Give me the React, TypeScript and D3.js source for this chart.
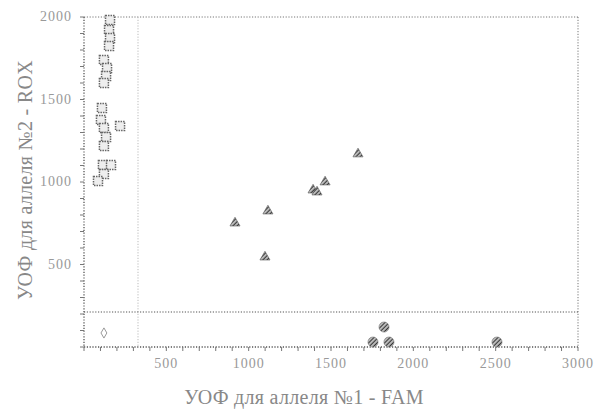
import React from 'react';
import * as d3 from 'd3';

// allele 2 homozygotes (open squares)
const squaresX = [158, 152, 158, 152, 121, 140, 134, 121, 109, 103, 121, 134, 121, 219, 115, 164, 121, 85];
const squaresY = [1982, 1921, 1873, 1824, 1739, 1691, 1642, 1600, 1448, 1376, 1327, 1273, 1218, 1339, 1103, 1103, 1048, 1006];

// heterozygotes (filled triangles)
const trianglesX = [917, 1117, 1099, 1391, 1415, 1464, 1664];
const trianglesY = [751, 824, 545, 951, 939, 1000, 1170];

// allele 1 homozygotes (filled circles)
const circlesX = [1755, 1822, 1852, 2508];
const circlesY = [30, 121, 30, 30];

// no template control
const ntcX = [121];
const ntcY = [85];

const xThreshold = 328;
const yThreshold = 212;

const xTickLabels = [500, 1000, 1500, 2000, 2500, 3000];
const yTickLabels = [500, 1000, 1500, 2000];
const minorStep = 100;

const W = 600;
const H = 416;
const left = 84;
const right = 578;
const top = 17;
const bottom = 347;

export default function App() {
  const x = d3.scaleLinear().domain([0, 3000]).range([left, right]);
  const y = d3.scaleLinear().domain([0, 2000]).range([bottom, top]);

  const minorX = d3.range(0, 3000 + 1, minorStep);
  const minorY = d3.range(0, 2000 + 1, minorStep);

  const tri = d3.symbol().type(d3.symbolTriangle).size(44)();
  const circ = d3.symbol().type(d3.symbolCircle).size(80)();
  const diamond = d3.symbol().type(d3.symbolDiamond).size(30)();

  const font = '"Liberation Serif", "DejaVu Serif", serif';
  const dot = '1.2,1.6';

  return (
    <svg width={W} height={H} style={{ position: 'absolute', left: 0, top: 0, background: '#fff' }}>
      <defs>
        <pattern id="hatch" width="3" height="3" patternUnits="userSpaceOnUse" patternTransform="rotate(45)">
          <rect width="3" height="3" fill="#b8b8b8" />
          <line x1="0" y1="0" x2="0" y2="3" stroke="#1e1e1e" strokeWidth="1.7" />
        </pattern>
      </defs>

      {/* frame */}
      <line x1={left} x2={right} y1={top} y2={top} stroke="#777" strokeDasharray={dot} />
      <line x1={right} x2={right} y1={top} y2={bottom} stroke="#777" strokeDasharray={dot} />
      <line x1={left} x2={right} y1={bottom} y2={bottom} stroke="#555" strokeDasharray={dot} strokeWidth={1.3} />
      <line x1={left} x2={left} y1={top} y2={bottom} stroke="#555" strokeDasharray={dot} strokeWidth={1.3} />

      {/* cluster thresholds */}
      <line x1={x(xThreshold)} x2={x(xThreshold)} y1={top} y2={bottom} stroke="#bbb" strokeDasharray={dot} />
      <line x1={left} x2={right} y1={y(yThreshold)} y2={y(yThreshold)} stroke="#555" strokeDasharray={dot} strokeWidth={1.2} />

      {/* ticks */}
      {minorX.map((v) => (
        <line key={'tx' + v} x1={x(v)} x2={x(v)} y1={bottom} y2={bottom + 4} stroke="#777" />
      ))}
      {minorY.map((v) => (
        <line key={'ty' + v} x1={left - 4} x2={left} y1={y(v)} y2={y(v)} stroke="#777" />
      ))}

      {xTickLabels.map((v) => (
        <text key={'lx' + v} x={x(v)} y={bottom + 21} textAnchor="middle" fontFamily={font} fontSize={14} letterSpacing={1} fill="#999">
          {v}
        </text>
      ))}
      {yTickLabels.map((v) => (
        <text key={'ly' + v} x={left - 12} y={y(v) + 4} textAnchor="end" fontFamily={font} fontSize={14} letterSpacing={1} fill="#999">
          {v}
        </text>
      ))}

      {/* titles */}
      <text x={304} y={404} textAnchor="middle" fontFamily={font} fontSize={20} letterSpacing={0.3} fill="#888">
        УОФ для аллеля №1 - FAM
      </text>
      <text transform="translate(32,180) rotate(-90)" textAnchor="middle" fontFamily={font} fontSize={20} letterSpacing={0.3} fill="#888">
        УОФ для аллеля №2 - ROX
      </text>

      {/* points */}
      {squaresX.map((v, i) => (
        <rect key={'s' + i} x={x(v) - 4.5} y={y(squaresY[i]) - 4.5} width={9} height={9}
          fill="#eee" stroke="#666" strokeWidth={1.5} strokeDasharray="1.5,1" />
      ))}
      {trianglesX.map((v, i) => (
        <path key={'t' + i} d={tri!} transform={`translate(${x(v)},${y(trianglesY[i])})`} fill="url(#hatch)" stroke="#555" strokeWidth={0.6} />
      ))}
      {circlesX.map((v, i) => (
        <path key={'c' + i} d={circ!} transform={`translate(${x(v)},${y(circlesY[i])})`} fill="url(#hatch)" stroke="#777" strokeWidth={0.6} />
      ))}
      {ntcX.map((v, i) => (
        <path key={'n' + i} d={diamond!} transform={`translate(${x(v)},${y(ntcY[i])})`} fill="none" stroke="#999" strokeWidth={1} />
      ))}
    </svg>
  );
}
